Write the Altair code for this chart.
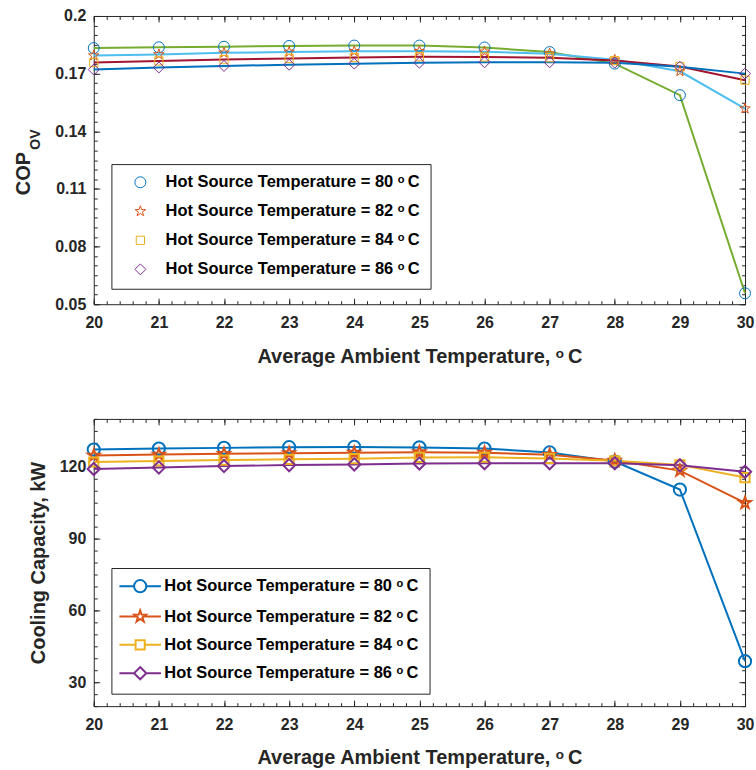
import math
import altair as alt
import pandas as pd

# ---------------- data ----------------
x_vals = [20, 21, 22, 23, 24, 25, 26, 27, 28, 29, 30]
hot_temps = [80, 82, 84, 86]
series_labels = [f"Hot Source Temperature = {t} ᵒ\u2009C" for t in hot_temps]

cop_80 = [0.1833, 0.1837, 0.1840, 0.1844, 0.1846, 0.1846, 0.1836, 0.1812, 0.1752, 0.1588, 0.0557]
cop_82 = [0.1794, 0.1800, 0.1808, 0.1813, 0.1816, 0.1817, 0.1814, 0.1804, 0.1772, 0.1712, 0.1518]
cop_84 = [0.1758, 0.1766, 0.1773, 0.1779, 0.1784, 0.1788, 0.1787, 0.1783, 0.1768, 0.1737, 0.1666]
cop_86 = [0.1721, 0.1732, 0.1740, 0.1746, 0.1752, 0.1757, 0.1759, 0.1759, 0.1757, 0.1736, 0.1700]

cap_80 = [127.2, 127.6, 127.9, 128.2, 128.3, 128.1, 127.6, 126.0, 122.2, 110.5, 38.8]
cap_82 = [124.7, 125.1, 125.4, 125.7, 125.9, 126.1, 125.9, 125.0, 122.6, 118.4, 104.9]
cap_84 = [122.0, 122.4, 122.8, 123.1, 123.4, 123.9, 124.0, 123.5, 122.5, 120.8, 115.5]
cap_86 = [119.1, 119.7, 120.3, 120.7, 121.0, 121.4, 121.5, 121.5, 121.5, 120.6, 117.9]

cop_ticks = [0.05, 0.08, 0.11, 0.14, 0.17, 0.2]
cap_ticks = [30, 60, 90, 120]


def to_long(arrays):
    rows = []
    for lab, arr in zip(series_labels, arrays):
        for xv, yv in zip(x_vals, arr):
            rows.append({"x": xv, "y": yv, "s": lab})
    return pd.DataFrame(rows)


df_cop = to_long([cop_80, cop_82, cop_84, cop_86])
df_cap = to_long([cap_80, cap_82, cap_84, cap_86])

# ---------------- styles ----------------
TXT = "#262626"
FONT = "Liberation Sans"
W = 653
H1 = 289
H2 = 288

star_pts = []
for i in range(10):
    ang = -math.pi / 2 + i * math.pi / 5
    r = 1.0 if i % 2 == 0 else 0.4
    star_pts.append(f"{r * math.cos(ang):.3f},{r * math.sin(ang):.3f}")
STAR = "M" + "L".join(star_pts) + "Z"
SQUARE = "M-0.75,-0.75L0.75,-0.75L0.75,0.75L-0.75,0.75Z"
DIAMOND = "M0,-1L1,0L0,1L-1,0Z"
CIRCLE = "M-1,0A1,1,0,1,0,1,0A1,1,0,1,0,-1,0Z"
shapes = ["circle", STAR, SQUARE, "diamond"]
marker_colors = ["#0072BD", "#D95319", "#EDB120", "#7E2F8E"]
cop_line_colors = ["#77AC30", "#4DBEEE", "#A2142F", "#0072BD"]

# legend symbols for the bottom chart: a line segment with the marker on it
L = 3.4
legend_line_shapes = [
    f"M-{L},0L-1,0M1,0L{L},0" + CIRCLE,
    f"M-{L},0L-0.55,0M0.55,0L{L},0" + STAR,
    f"M-{L},0L-0.75,0M0.75,0L{L},0" + SQUARE,
    f"M-{L},0L-1,0M1,0L{L},0" + DIAMOND,
]

x_scale = alt.Scale(domain=[20, 30], nice=False, zero=False)
y_scale_cop = alt.Scale(domain=[0.05, 0.2], nice=False, zero=False)
y_scale_cap = alt.Scale(domain=[20, 140], nice=False, zero=False)

x_minor = [round(20 + 0.2 * i, 1) for i in range(51)]
cop_minor = [round(0.05 + 0.005 * i, 3) for i in range(31)]
cap_minor = [20 + 5 * i for i in range(25)]


def tick_layers(df, yscale, y_major, y_minor, h):
    layers = []
    for xv, yv, size in [(x_vals, y_major, 6), (x_minor, y_minor, 3.5)]:
        for xo, yo in [("top", "right"), ("bottom", "left")]:
            layers.append(
                alt.Chart(df).mark_point(opacity=0).encode(
                    x=alt.X("x:Q", scale=x_scale,
                            axis=alt.Axis(orient=xo, offset=-h, values=xv, labels=False,
                                          domain=False, grid=False, ticks=True, tickSize=size,
                                          tickColor=TXT, tickWidth=1, title=None)),
                    y=alt.Y("y:Q", scale=yscale,
                            axis=alt.Axis(orient=yo, offset=-W, values=yv, labels=False,
                                          domain=False, grid=False, ticks=True, tickSize=size,
                                          tickColor=TXT, tickWidth=1, title=None)),
                )
            )
    return layers


x_title = "Average Ambient Temperature,  ᵒ\u2009C"


def main_x_axis():
    return alt.Axis(values=x_vals, format="d", ticks=False, domain=False, grid=False,
                    labelFlush=False, labelPadding=10, title=x_title, titlePadding=16)


legend_common = dict(
    orient="none", legendX=17.7, title=None, padding=10,
    labelFont=FONT, labelFontSize=16.5, labelFontWeight="bold", labelColor="black",
    labelLimit=500, strokeColor=TXT, fillColor="white", symbolOpacity=1,
)

# ---------------- top chart ----------------
top_lines = alt.Chart(df_cop).mark_line(strokeWidth=2).encode(
    x=alt.X("x:Q", scale=x_scale, axis=main_x_axis()),
    y=alt.Y("y:Q", scale=y_scale_cop,
            axis=alt.Axis(values=cop_ticks, format="~g", ticks=False, domain=False,
                          grid=False, labelFlush=False, labelPadding=8, title=None)),
    stroke=alt.Stroke("s:N", scale=alt.Scale(domain=series_labels, range=cop_line_colors),
                      legend=None),
)

top_legend = alt.Legend(symbolSize=121, symbolStrokeWidth=1, symbolOffset=10.8,
                        labelOffset=17, rowPadding=12.1, legendY=148.5, **legend_common)

top_points = alt.Chart(df_cop).mark_point(filled=False, size=121, strokeWidth=1, opacity=1).encode(
    x=alt.X("x:Q", scale=x_scale, axis=None),
    y=alt.Y("y:Q", scale=y_scale_cop, axis=None),
    color=alt.Color("s:N", scale=alt.Scale(domain=series_labels, range=marker_colors),
                    legend=top_legend),
    shape=alt.Shape("s:N", scale=alt.Scale(domain=series_labels, range=shapes),
                    legend=top_legend),
)

cop_text = alt.Chart(pd.DataFrame({"t": ["COP"]})).mark_text(
    angle=270, fontSize=20, fontWeight="bold", font=FONT, color=TXT,
    align="center", baseline="middle").encode(
    text="t:N", x=alt.value(-70), y=alt.value(158))
ov_text = alt.Chart(pd.DataFrame({"t": ["OV"]})).mark_text(
    angle=270, fontSize=14, fontWeight="bold", font=FONT, color=TXT,
    align="center", baseline="middle").encode(
    text="t:N", x=alt.value(-57.5), y=alt.value(124))

top = alt.layer(
    top_lines, top_points, *tick_layers(df_cop, y_scale_cop, cop_ticks, cop_minor, H1),
    cop_text, ov_text
).resolve_scale(color="independent", shape="independent", stroke="independent").resolve_axis(
    x="independent", y="independent").properties(width=W, height=H1)

# ---------------- bottom chart ----------------
bot_legend = alt.Legend(symbolSize=150, symbolStrokeWidth=2, symbolOffset=10.6,
                        labelOffset=16, rowPadding=9.4, legendY=149.5, **legend_common)

bot_lines = alt.Chart(df_cap).mark_line(strokeWidth=2).encode(
    x=alt.X("x:Q", scale=x_scale, axis=main_x_axis()),
    y=alt.Y("y:Q", scale=y_scale_cap,
            axis=alt.Axis(values=cap_ticks, format="d", ticks=False, domain=False,
                          grid=False, labelFlush=False, labelPadding=8,
                          title="Cooling Capacity, kW", titlePadding=11)),
    stroke=alt.Stroke("s:N", scale=alt.Scale(domain=series_labels, range=marker_colors),
                      legend=None),
)

bot_points = alt.Chart(df_cap).mark_point(filled=False, size=150, strokeWidth=2, opacity=1).encode(
    x=alt.X("x:Q", scale=x_scale, axis=None),
    y=alt.Y("y:Q", scale=y_scale_cap, axis=None),
    color=alt.Color("s:N", scale=alt.Scale(domain=series_labels, range=marker_colors),
                    legend=None),
    shape=alt.Shape("s:N", scale=alt.Scale(domain=series_labels, range=shapes),
                    legend=None),
)

# legend-only layer (no rows drawn): line-with-marker symbols
bot_key = alt.Chart(df_cap).transform_filter("datum.x > 1000").mark_point(
    filled=False, size=150, strokeWidth=2).encode(
    color=alt.Color("s:N", scale=alt.Scale(domain=series_labels, range=marker_colors),
                    legend=bot_legend),
    shape=alt.Shape("s:N", scale=alt.Scale(domain=series_labels, range=legend_line_shapes),
                    legend=bot_legend),
)

bottom = alt.layer(
    bot_lines, bot_points, *tick_layers(df_cap, y_scale_cap, cap_ticks, cap_minor, H2),
    bot_key
).resolve_scale(color="independent", shape="independent").resolve_axis(
    x="independent", y="independent").properties(width=W, height=H2)

chart = alt.vconcat(top, bottom, spacing=51).resolve_scale(
    color="independent", stroke="independent", shape="independent"
).resolve_legend(
    color="independent", stroke="independent", shape="independent"
).properties(
    padding={"left": 13, "top": 6, "right": 0, "bottom": 0},
    background="white",
).configure_view(stroke=TXT, strokeWidth=1).configure_axis(
    labelFont=FONT, labelFontSize=16, labelFontWeight="bold", labelColor=TXT,
    titleFont=FONT, titleFontSize=20, titleFontWeight="bold", titleColor=TXT,
).configure_legend(labelFont=FONT)

chart.save("out.html", embed_options={"renderer": "svg", "actions": False})
